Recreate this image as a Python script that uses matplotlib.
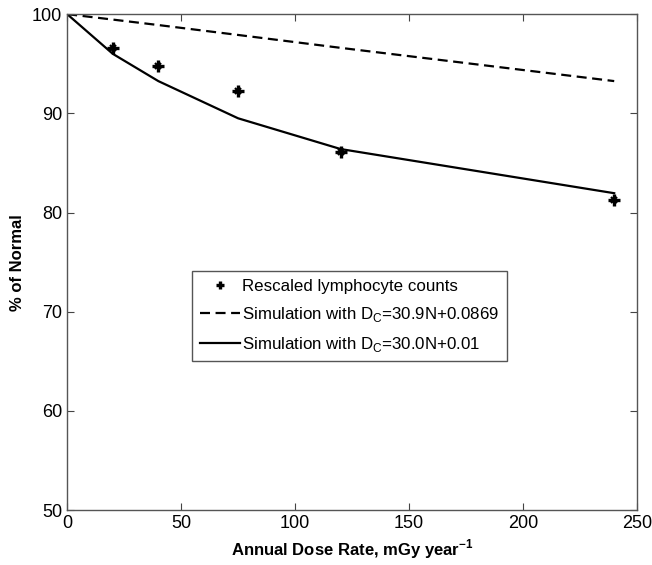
import numpy as np
import matplotlib.pyplot as plt

plt.rcParams['font.family'] = ['Liberation Sans', 'DejaVu Sans']
plt.rcParams['mathtext.fontset'] = 'custom'
plt.rcParams['mathtext.rm'] = 'Liberation Sans'
plt.rcParams['mathtext.bf'] = 'Liberation Sans:bold'

# Measured lymphocyte counts (rescaled)
dose_obs = np.array([20, 40, 75, 120, 240])
pct_obs = np.array([96.6, 94.8, 92.3, 86.1, 81.3])

# Simulation curves
dose_sim = np.array([0, 20, 40, 75, 120, 240])
pct_sim_a = np.array([100, 99.45, 98.9, 97.9, 96.6, 93.25])
pct_sim_b = np.array([100, 96.0, 93.25, 89.5, 86.4, 81.95])

fig = plt.figure(figsize=(6.52, 5.65), dpi=100)
ax = fig.add_axes([0.103, 0.097, 0.874, 0.878])

# bold asterisk: a thick plus with a thinner cross on top
ax.plot(dose_obs, pct_obs, linestyle='none', marker='x', markersize=5,
        markeredgewidth=1.6, color='black')
ax.plot(dose_obs, pct_obs, linestyle='none', marker='+', markersize=8,
        markeredgewidth=2.4, color='black', label='Rescaled lymphocyte counts')
ax.plot(dose_sim, pct_sim_a, '--', color='black', linewidth=1.6, dashes=(4.5, 2.5),
        label=r'Simulation with D$_\mathrm{C}$=30.9N+0.0869')
ax.plot(dose_sim, pct_sim_b, '-', color='black', linewidth=1.6,
        label=r'Simulation with D$_\mathrm{C}$=30.0N+0.01')

ax.set_xlim(0, 250)
ax.set_ylim(50, 100)
ax.set_xticks(np.arange(0, 251, 50))
ax.set_yticks(np.arange(50, 101, 10))
ax.tick_params(direction='in', top=True, right=True, length=5, width=0.8,
               labelsize=13, color='#444444')
for s in ax.spines.values():
    s.set_color('#555555')
    s.set_linewidth(1.0)

ax.set_xlabel(r'Annual Dose Rate, mGy year$^{\mathbf{-1}}$', fontsize=12,
              fontweight='bold', labelpad=4)
ax.set_ylabel('% of Normal', fontsize=12, fontweight='bold', labelpad=5)

leg = ax.legend(loc='upper left', bbox_to_anchor=(0.219, 0.482), fontsize=12.2,
                fancybox=False, framealpha=1, edgecolor='#555555',
                handlelength=2.4, handletextpad=0.1, borderpad=0.45,
                labelspacing=0.65, borderaxespad=0, markerscale=0.8)
leg.get_frame().set_linewidth(1.0)

fig.savefig('out.png', dpi=100)
